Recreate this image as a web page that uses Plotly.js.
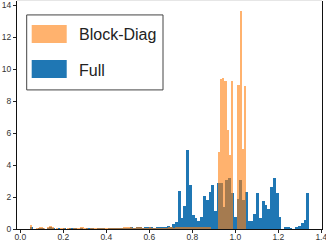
<!DOCTYPE html>
<html>
<head>
<meta charset="utf-8">
<script src="https://cdn.plot.ly/plotly-3.0.1.min.js"></script>
<style>
  html, body { margin: 0; padding: 0; background: #fff; }
  #chart { width: 326px; height: 242px; }
</style>
</head>
<body>
<div id="chart"></div>
<script>
// ---- data (density histogram, 100 bins per series) ----
const seriesNames = ["Block-Diag", "Full"];

const fullBinStart = 0.044;
const fullBinWidth = 0.013;
const fullHeights = [
  0.15, 0, 0, 0.08, 0.08, 0, 0.08, 0.15, 0.08, 0,
  0.08, 0, 0.08, 0, 0.08, 0.08, 0.08, 0, 0.08, 0,
  0.08, 0.08, 0.08, 0, 0.08, 0.08, 0.08, 0, 0.08, 0.08,
  0.08, 0.08, 0.08, 0.08, 0.08, 0.08, 0.12, 0.08, 0.12, 0.12,
  0.08, 0.15, 0.15, 0.15, 0.08, 0.12, 0.15, 0.15, 0.12, 0.2,
  0.15, 0.3, 0.45, 2.4, 0.67, 1.44, 4.94, 2.75, 0.875, 0.67,
  0.5, 0.75, 2.06, 1.8, 2.33, 2.75, 1.1, 2.9, 2.9, 1.4,
  3.06, 3.2, 2.25, 0.75, 1.9, 3.06, 1.8, 2.33, 0.52, 0.52,
  0.94, 2.27, 0.71, 1.77, 1.52, 1.27, 2.65, 3.2, 2.27, 0.75,
  0, 0.12, 0.12, 0.06, 0, 0.12, 0.2, 0.35, 0.56, 2.27
];

const blockBinStart = 0.045;
const blockBinWidth = 0.01005;
const blockHeights = [
  0.23, 0, 0, 0.05, 0.1, 0.1, 0.05, 0, 0.1, 0.2,
  0.1, 0, 0.05, 0, 0.05, 0.05, 0, 0.05, 0.05, 0,
  0.05, 0.05, 0.05, 0.1, 0.1, 0.05, 0.05, 0, 0.05, 0.05,
  0.05, 0.05, 0.05, 0.05, 0.05, 0.05, 0.05, 0.05, 0.05, 0.05,
  0.05, 0.05, 0.05, 0.1, 0.1, 0.1, 0.1, 0.05, 0.05, 0.1,
  0.1, 0.1, 0.05, 0.05, 0.05, 0.1, 0.05, 0.05, 0.05, 0.05,
  0.05, 0.05, 0.05, 0.05, 0.1, 0.1, 0.05, 0.1, 0.1, 0.15,
  0.15, 0.1, 0.1, 0.1, 0.15, 0.1, 0.15, 0.15, 0.1, 0.1,
  0.1, 0.15, 0.1, 0.1, 0, 0, 0, 4.8, 9.375, 9.44,
  9.25, 6.2, 4.6, 9.25, 0, 0, 9.0, 13.6, 5.0, 8.94
];

const xTickVals = [0, 0.2, 0.4, 0.6, 0.8, 1.0, 1.2, 1.4];
const xTickText = ["0.0", "0.2", "0.4", "0.6", "0.8", "1.0", "1.2", "1.4"];
const yTickVals = [0, 2, 4, 6, 8, 10, 12, 14];
const yTickText = ["0", "2", "4", "6", "8", "10", "12", "14"];

// ---- styling ----
const blue = "#1f77b4";
const orange = "#ff7f0e";
const orangeAlpha = 0.6;

function centers(start, width, n) {
  const c = [];
  for (let i = 0; i < n; i++) c.push(start + width * (i + 0.5));
  return c;
}

const traces = [
  {
    type: "bar",
    name: seriesNames[1],
    x: centers(fullBinStart, fullBinWidth, fullHeights.length),
    y: fullHeights,
    width: fullBinWidth,
    marker: { color: blue, line: { width: 0 } },
    showlegend: false,
    hoverinfo: "x+y"
  },
  {
    type: "bar",
    name: seriesNames[0],
    x: centers(blockBinStart, blockBinWidth, blockHeights.length),
    y: blockHeights,
    width: blockBinWidth,
    marker: { color: orange, opacity: orangeAlpha, line: { width: 0 } },
    showlegend: false,
    hoverinfo: "x+y"
  }
];

const tickFont = { family: "Liberation Sans, Arial, sans-serif", size: 8.5, color: "#333" };
const legFont = { family: "Liberation Sans, Arial, sans-serif", size: 16, color: "#222" };

const layout = {
  width: 326,
  height: 242,
  margin: { l: 17, r: 4, t: 1, b: 13, pad: 0 },
  paper_bgcolor: "#fff",
  plot_bgcolor: "#fff",
  barmode: "overlay",
  bargap: 0,
  showlegend: false,
  xaxis: {
    range: [-0.0153, 1.4033],
    tickmode: "array",
    tickvals: xTickVals,
    ticktext: xTickText,
    ticks: "outside",
    ticklen: 3,
    tickwidth: 1,
    tickcolor: "#222",
    ticklabelstandoff: -3,
    ticklabeloverflow: "allow",
    showgrid: false,
    zeroline: false,
    showline: true,
    linecolor: "#111",
    linewidth: 1,
    tickfont: tickFont,
    fixedrange: true
  },
  yaxis: {
    range: [0, 14.25],
    tickmode: "array",
    tickvals: yTickVals,
    ticktext: yTickText,
    ticks: "outside",
    ticklen: 3,
    tickwidth: 1,
    tickcolor: "#222",
    ticklabeloverflow: "allow",
    showgrid: false,
    zeroline: false,
    showline: true,
    mirror: true,
    linecolor: "#111",
    linewidth: 1,
    tickfont: tickFont,
    fixedrange: true
  },
  shapes: [
    { type: "line", xref: "paper", yref: "paper", x0: 0, x1: 1, y0: 1.004, y1: 1.004,
      line: { color: "#e6e6e6", width: 2 } },
    // legend frame
    { type: "rect", xref: "paper", yref: "paper", x0: 0.0318, x1: 0.4787, y0: 0.610, y1: 0.9389,
      line: { color: "#444", width: 1 }, fillcolor: "#ffffff" },
    // legend swatches
    { type: "rect", xref: "paper", yref: "paper", x0: 0.0482, x1: 0.163, y0: 0.8153, y1: 0.8952,
      line: { width: 0 }, fillcolor: "rgba(255,127,14," + orangeAlpha + ")" },
    { type: "rect", xref: "paper", yref: "paper", x0: 0.0482, x1: 0.163, y0: 0.6624, y1: 0.741,
      line: { width: 0 }, fillcolor: blue }
  ],
  annotations: [
    { xref: "paper", yref: "paper", x: 0.1967, y: 0.852, xanchor: "left", yanchor: "middle",
      text: seriesNames[0], showarrow: false, font: legFont },
    { xref: "paper", yref: "paper", x: 0.1967, y: 0.695, xanchor: "left", yanchor: "middle",
      text: seriesNames[1], showarrow: false, font: legFont }
  ]
};

Plotly.newPlot("chart", traces, layout, { displayModeBar: false, staticPlot: true });
</script>
</body>
</html>
